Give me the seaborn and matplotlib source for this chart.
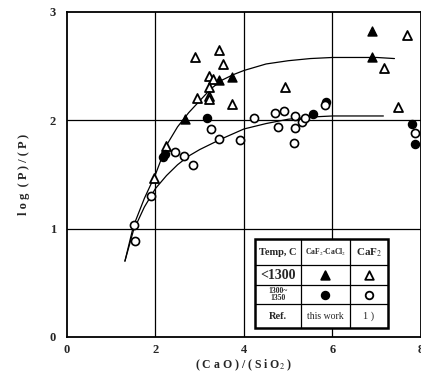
import matplotlib
matplotlib.use("Agg")
import matplotlib.pyplot as plt
import seaborn as sns
import pandas as pd

# ---- data ----
tri_filled_x = [6.89, 6.89, 3.74, 3.43, 2.66]
tri_filled_y = [2.82, 2.58, 2.40, 2.37, 2.01]

tri_open_x = [2.90, 3.43, 3.52, 7.68, 7.17, 3.20, 3.29, 3.20, 2.95, 3.20, 3.20, 3.74, 4.93, 7.47, 2.24, 1.97]
tri_open_y = [2.58, 2.65, 2.52, 2.79, 2.48, 2.41, 2.38, 2.31, 2.21, 2.22, 2.20, 2.15, 2.31, 2.12, 1.76, 1.47]

circ_filled_x = [3.16, 2.16, 2.22, 5.56, 5.86, 7.80, 7.87]
circ_filled_y = [2.02, 1.66, 1.69, 2.06, 2.17, 1.97, 1.78]

circ_open_x = [1.51, 1.54, 1.90, 2.45, 2.64, 2.85, 3.25, 3.43, 3.90, 4.22, 4.69, 4.90, 4.78,
               5.16, 5.16, 5.12, 5.31, 5.39, 5.84, 7.87]
circ_open_y = [1.03, 0.89, 1.30, 1.71, 1.67, 1.59, 1.92, 1.83, 1.82, 2.02, 2.07, 2.09, 1.94,
               2.04, 1.93, 1.79, 1.98, 2.02, 2.14, 1.88]

upper_curve_x = [1.31, 1.5, 1.75, 2.0, 2.25, 2.5, 2.75, 3.0, 3.25, 3.5, 3.75, 4.0, 4.5, 5.0, 5.5, 6.0, 6.5, 7.0, 7.4]
upper_curve_y = [0.70, 1.02, 1.28, 1.50, 1.77, 1.94, 2.07, 2.18, 2.29, 2.37, 2.42, 2.46, 2.52, 2.55, 2.57, 2.58, 2.58, 2.58, 2.57]

lower_curve_x = [1.31, 1.5, 1.75, 2.0, 2.25, 2.5, 2.75, 3.0, 3.5, 4.0, 4.5, 5.0, 5.5, 6.0, 6.5, 7.15]
lower_curve_y = [0.70, 0.98, 1.20, 1.37, 1.49, 1.59, 1.67, 1.73, 1.83, 1.92, 1.97, 2.01, 2.03, 2.04, 2.04, 2.04]

x_ticks = [0, 2, 4, 6, 8]
y_ticks = [0, 1, 2, 3]

table_rows = [
    ["Temp, C", "CaF$_2$-CaCl$_2$", "CaF$_2$"],
    ["<1300", "^filled", "^open"],
    ["1300~\n1350", "ofilled", "oopen"],
    ["Ref.", "this work", "1 )"],
]

# ---- figure ----
sns.set_theme(style="white")
plt.rcParams["font.family"] = ["Liberation Serif", "DejaVu Serif", "DejaVu Sans"]
plt.rcParams["mathtext.fontset"] = "stix"

fig = plt.figure(figsize=(4.21, 3.74), dpi=100)
ax = fig.add_axes([0.159, 0.099, 0.841, 0.869])

for xv in [2, 4, 6]:
    ax.axvline(xv, color="black", lw=0.9, zorder=0)
for yv in [1, 2]:
    ax.axhline(yv, color="black", lw=0.9, zorder=0)

sns.lineplot(x=upper_curve_x, y=upper_curve_y, ax=ax, color="black", lw=0.9, sort=False, zorder=1)
sns.lineplot(x=lower_curve_x, y=lower_curve_y, ax=ax, color="black", lw=0.9, sort=False, zorder=1)

ms = 34
sns.scatterplot(x=tri_filled_x, y=tri_filled_y, ax=ax, marker="^", s=ms + 8, color="black",
                edgecolor="black", linewidth=1.0, zorder=3)
sns.scatterplot(x=tri_open_x, y=tri_open_y, ax=ax, marker="^", s=ms + 8, facecolor="white",
                edgecolor="black", linewidth=1.3, zorder=3)
sns.scatterplot(x=circ_filled_x, y=circ_filled_y, ax=ax, marker="o", s=ms, color="black",
                edgecolor="black", linewidth=1.0, zorder=3)
sns.scatterplot(x=circ_open_x, y=circ_open_y, ax=ax, marker="o", s=ms, facecolor="white",
                edgecolor="black", linewidth=1.2, zorder=3)

ax.set_xlim(0, 8)
ax.set_ylim(0, 3)
ax.set_xticks(x_ticks)
ax.set_yticks(y_ticks)
ax.set_xticklabels([str(v) for v in x_ticks], fontsize=9, fontweight="bold")
ax.set_yticklabels([str(v) for v in y_ticks], fontsize=9, fontweight="bold")
ax.tick_params(axis="x", length=0, pad=5)
ax.tick_params(axis="y", length=0, pad=8)
for sp in ax.spines.values():
    sp.set_color("black")
    sp.set_linewidth(1.3)

ax.set_xlabel("( C a O ) / ( S i O$_2$ )", fontsize=8.5, fontweight="bold", labelpad=1)
ax.set_ylabel("l o g  ( P ) / ( P )", fontsize=9, fontweight="bold", labelpad=14)

# ---- table legend (axes coords) ----
col_edges = [0.530, 0.660, 0.799, 0.906]
row_edges = [0.300, 0.220, 0.160, 0.100, 0.027]
tr = ax.transAxes
ax.add_patch(plt.Rectangle((col_edges[0], row_edges[-1]), col_edges[-1] - col_edges[0],
                           row_edges[0] - row_edges[-1], transform=tr, facecolor="white",
                           edgecolor="black", lw=1.8, zorder=4))
for c in col_edges[1:-1]:
    ax.plot([c, c], [row_edges[-1], row_edges[0]], transform=tr, color="black", lw=0.9, zorder=5)
for r in row_edges[1:-1]:
    ax.plot([col_edges[0], col_edges[-1]], [r, r], transform=tr, color="black", lw=0.9, zorder=5)

sizes = [
    [7.5, 5.5, 8],
    [10, 9, 9],
    [5.5, 9, 9],
    [7.5, 7, 7.5],
]
marker_map = {
    "^filled": ("^", "black"),
    "^open": ("^", "white"),
    "ofilled": ("o", "black"),
    "oopen": ("o", "white"),
}
for i, row in enumerate(table_rows):
    yc = (row_edges[i] + row_edges[i + 1]) / 2
    for j, txt in enumerate(row):
        xc = (col_edges[j] + col_edges[j + 1]) / 2
        if txt in marker_map:
            mk, fc = marker_map[txt]
            ax.scatter([xc], [yc], transform=tr, marker=mk, s=38 if mk == "^" else 30,
                       facecolor=fc, edgecolor="black", linewidth=1.3, zorder=6, clip_on=False)
            continue
        ax.text(xc, yc, txt, transform=tr, ha="center", va="center", fontsize=sizes[i][j],
                fontweight="bold" if j == 0 or i == 0 else "normal",
                family=["Liberation Serif", "DejaVu Sans"],
                linespacing=0.8, zorder=6)

fig.savefig("out.png", dpi=100)
